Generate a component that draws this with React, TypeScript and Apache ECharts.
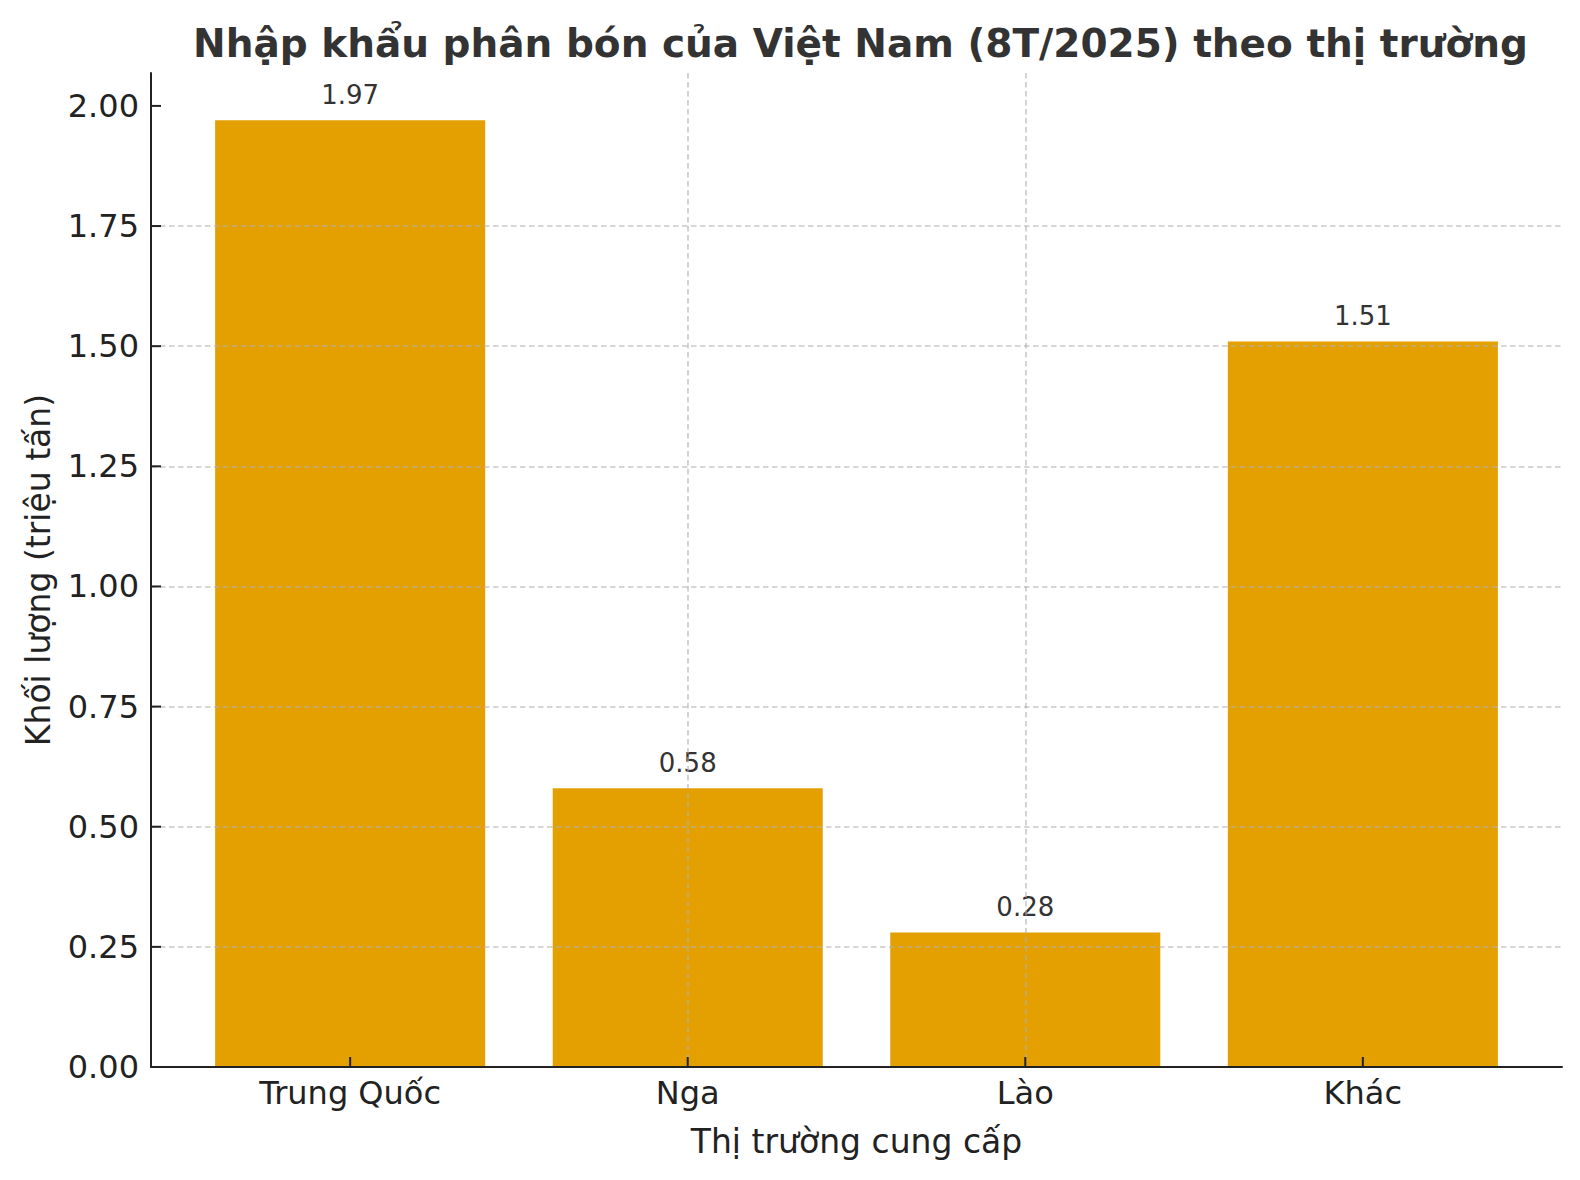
import React, { useEffect, useRef } from "react";
import * as echarts from "echarts";

const categories = ["Trung Quốc", "Nga", "Lào", "Khác"];
const values = [1.97, 0.58, 0.28, 1.51];
const xTicks = [0, 1, 2, 3];
const yTicks = [0, 0.25, 0.5, 0.75, 1.0, 1.25, 1.5, 1.75, 2.0];
const titleText = "Nhập khẩu phân bón của Việt Nam (8T/2025) theo thị trường";
const xName = "Thị trường cung cấp";
const yName = "Khối lượng (triệu tấn)";

const W = 1580;
const H = 1180;
const GRID = { left: 151, right: 18, top: 73, bottom: 113 };
const X_MIN = -0.59;
const X_MAX = 3.59;
const Y_MAX = 2.0685;
const FONT = "DejaVu Sans";
const TICK_LEN = 10;

export default function App() {
  const ref = useRef<HTMLDivElement>(null);
  useEffect(() => {
    if (!ref.current) return;
    const chart = echarts.init(ref.current, undefined, { renderer: "svg" });
    const plotW = W - GRID.left - GRID.right;
    const barWidth = (0.8 * plotW) / (X_MAX - X_MIN);
    const gridLine = {
      show: true,
      showMinLine: false,
      showMaxLine: false,
      lineStyle: { color: "rgba(176,176,176,0.7)", width: 1.6, type: [5.5, 3.5] },
    };
    const axisLine = { show: true, onZero: false, lineStyle: { color: "#222", width: 2 } };
    const axisTick = (custom: number[]) => ({
      show: false,
      customValues: custom,
    });
    const tickStyle = { stroke: "#222", lineWidth: 2 };
    chart.setOption({
      animation: false,
      backgroundColor: "#fff",
      title: {
        text: titleText,
        left: 188,
        top: 19,
        textStyle: { fontFamily: FONT, fontWeight: "bold", fontSize: 39, color: "#333" },
      },
      grid: { ...GRID, containLabel: false, outerBoundsMode: "none" },
      xAxis: {
        type: "value",
        min: X_MIN,
        max: X_MAX,
        z: 3,
        axisLine,
        axisTick: axisTick(xTicks),
        axisLabel: {
          customValues: xTicks,
          formatter: (v: number) => categories[Math.round(v)] ?? "",
          fontFamily: FONT,
          fontSize: 32,
          color: "#222",
          margin: 10,
        },
        splitLine: gridLine,
        name: xName,
        nameLocation: "middle",
        nameGap: 58,
        nameTextStyle: { fontFamily: FONT, fontSize: 33, color: "#222" },
      },
      yAxis: {
        type: "value",
        min: 0,
        max: Y_MAX,
        z: 3,
        axisLine,
        axisTick: axisTick(yTicks),
        axisLabel: {
          customValues: yTicks,
          formatter: (v: number) => v.toFixed(2),
          fontFamily: FONT,
          fontSize: 32,
          color: "#222",
          margin: 12,
        },
        splitLine: gridLine,
        name: yName,
        nameLocation: "middle",
        nameRotate: 90,
        nameGap: 96,
        nameTextStyle: { fontFamily: FONT, fontSize: 33, color: "#222" },
      },
      series: [
        {
          type: "bar",
          z: 2,
          barWidth,
          data: categories.map((c, i) => [i, values[i]]),
          itemStyle: { color: "#E3A000" },
          label: {
            show: true,
            position: "top",
            distance: 12,
            formatter: (p: any) => Number(p.value[1]).toFixed(2),
            fontFamily: FONT,
            fontSize: 26,
            color: "#333",
          },
        },
        {
          type: "custom",
          z: 5,
          silent: true,
          clip: false,
          data: xTicks.map((v) => [v, 0]),
          renderItem: (params: any, api: any) => {
            const p = api.coord([api.value(0), api.value(1)]);
            return {
              type: "line",
              shape: { x1: p[0], y1: p[1], x2: p[0], y2: p[1] - TICK_LEN },
              style: tickStyle,
            };
          },
        },
        {
          type: "custom",
          z: 5,
          silent: true,
          clip: false,
          data: yTicks.map((v) => [X_MIN, v]),
          renderItem: (params: any, api: any) => {
            const p = api.coord([api.value(0), api.value(1)]);
            return {
              type: "line",
              shape: { x1: p[0], y1: p[1], x2: p[0] + TICK_LEN, y2: p[1] },
              style: tickStyle,
            };
          },
        },
      ],
    });
    return () => chart.dispose();
  }, []);
  return (
    <div
      ref={ref}
      style={{ position: "fixed", left: 0, top: 0, width: W, height: H, background: "#fff" }}
    />
  );
}
